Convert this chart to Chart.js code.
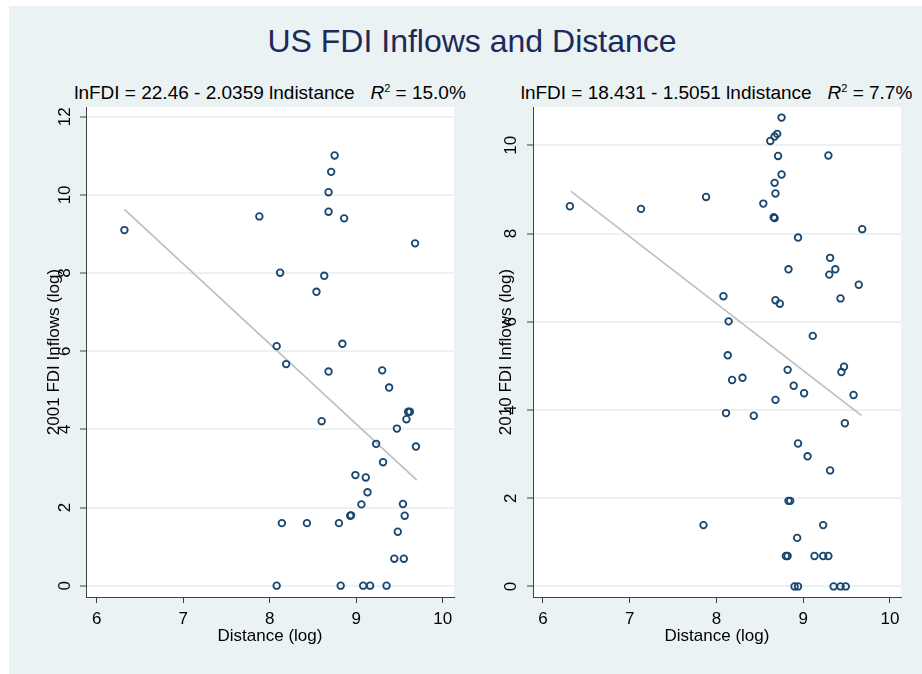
<!DOCTYPE html>
<html>
<head>
<meta charset="utf-8">
<script src="https://cdn.jsdelivr.net/npm/chart.js@4.4.1/dist/chart.umd.min.js"></script>
<style>
  body { margin: 0; background: #fff; width: 922px; height: 674px; overflow: hidden; position: relative; font-family: "Liberation Sans", Arial, sans-serif; }
  #bg { position: absolute; left: 9px; top: 6px; width: 913px; height: 668px; background: rgb(234,242,243); }
  #title { position: absolute; left: 0; top: 25px; width: 944px; text-align: center; font-size: 32px; line-height: 32px; color: #1c2a59; white-space: nowrap; }
  .sub { position: absolute; top: 83px; text-align: center; font-size: 19px; line-height: 19px; color: #000; white-space: nowrap; }
  .sub sup { font-size: 11px; vertical-align: 7px; line-height: 0; }
  canvas { position: absolute; }
</style>
</head>
<body>
<div id="bg"></div>
<div id="title">US FDI Inflows and Distance</div>
<div class="sub" style="left:0; width:540px;">lnFDI = 22.46 - 2.0359 lndistance &nbsp;&nbsp;<i>R</i><sup>2</sup> = 15.0%</div>
<div class="sub" style="left:472px; width:489px;">lnFDI = 18.431 - 1.5051 lndistance &nbsp;&nbsp;<i>R</i><sup>2</sup> = 7.7%</div>
<canvas id="left" width="461" height="574" style="left:9px; top:100px;"></canvas>
<canvas id="right" width="452" height="574" style="left:470px; top:100px;"></canvas>
<script>
// 2001 panel: distance (log) vs FDI inflows (log)
const x01 = [6.32, 7.88, 8.75, 8.71, 8.68, 8.68, 8.86, 9.68, 8.12, 8.63, 8.54, 8.08, 8.84, 8.19, 8.68, 9.30, 9.38,
  9.60, 9.62, 9.58, 8.60, 9.47, 9.23, 9.69, 9.31, 8.99, 9.11, 9.13, 9.06, 9.54, 8.93, 8.94, 9.56, 8.14, 8.43, 8.80,
  9.48, 9.44, 9.55, 8.08, 8.82, 9.08, 9.16, 9.35];
const y01 = [9.10, 9.45, 11.01, 10.59, 10.07, 9.57, 9.40, 8.76, 8.01, 7.93, 7.52, 6.13, 6.19, 5.67, 5.48, 5.51, 5.07,
  4.45, 4.45, 4.26, 4.21, 4.02, 3.63, 3.56, 3.16, 2.83, 2.77, 2.39, 2.08, 2.09, 1.79, 1.80, 1.79, 1.60, 1.60, 1.60,
  1.38, 0.69, 0.69, 0, 0, 0, 0, 0];
const fit01x = [6.32, 9.70];
const fit01y = [9.63, 2.70];

// 2010 panel
const x10 = [6.31, 7.13, 7.88, 8.75, 8.70, 8.67, 8.62, 8.71, 9.29, 8.75, 8.67, 8.68, 8.54, 8.66, 8.67, 9.68, 8.94,
  9.31, 8.83, 9.37, 9.30, 9.64, 8.08, 8.68, 8.73, 9.43, 8.14, 9.11, 8.13, 8.82, 9.47, 9.44, 8.18, 8.30, 8.89, 9.01,
  9.58, 8.68, 8.11, 8.43, 9.48, 8.94, 9.05, 9.31, 8.83, 8.85, 7.85, 9.23, 8.93, 8.80, 8.82, 9.13, 9.23, 9.29, 8.90,
  8.94, 9.35, 9.43, 9.49];
const y10 = [8.62, 8.56, 8.83, 10.63, 10.26, 10.20, 10.10, 9.76, 9.77, 9.34, 9.15, 8.91, 8.68, 8.37, 8.35, 8.10, 7.91,
  7.45, 7.19, 7.19, 7.07, 6.84, 6.58, 6.49, 6.41, 6.53, 6.01, 5.68, 5.24, 4.91, 4.98, 4.86, 4.68, 4.73, 4.55, 4.38,
  4.34, 4.23, 3.93, 3.87, 3.70, 3.24, 2.95, 2.63, 1.94, 1.94, 1.39, 1.39, 1.10, 0.69, 0.69, 0.69, 0.69, 0.69, 0,
  0, 0, 0, 0];
const fit10x = [6.32, 9.67];
const fit10y = [8.96, 3.88];

const xTicks = [6, 7, 8, 9, 10];
const yTicks01 = [0, 2, 4, 6, 8, 10, 12];
const yTicks10 = [0, 2, 4, 6, 8, 10];

Chart.defaults.font.family = '"Liberation Sans", Arial, sans-serif';
Chart.defaults.color = '#000';

const navy = 'rgb(26,71,111)';
const axisCol = '#404040';
const gridCol = 'rgb(234,242,243)';

// white plot region
const plotBg = {
  id: 'plotBg',
  beforeDraw(chart) {
    const a = chart.chartArea, ctx = chart.ctx;
    ctx.save();
    ctx.fillStyle = '#fff';
    ctx.fillRect(a.left, a.top, a.right - a.left, a.bottom - a.top);
    ctx.restore();
  }
};

// y tick labels are turned like the axis title
const rotatedYTicks = {
  id: 'rotatedYTicks',
  afterDraw(chart, args, opts) {
    const s = chart.scales.y, ctx = chart.ctx;
    ctx.save();
    ctx.font = '17px "Liberation Sans", Arial, sans-serif';
    ctx.fillStyle = '#000';
    ctx.textAlign = 'center';
    ctx.textBaseline = 'middle';
    s.ticks.forEach(t => {
      ctx.save();
      ctx.translate(opts.x, s.getPixelForValue(t.value));
      ctx.rotate(-Math.PI / 2);
      ctx.fillText(String(t.value), 0, 0);
      ctx.restore();
    });
    ctx.restore();
  }
};

function pts(xs, ys) {
  return xs.map((x, i) => ({ x: x, y: ys[i] }));
}

function panel(id, xs, ys, fx, fy, yTicks, ymin, ymax, xmin, xmax, ytitle, yw, titlePad, labelX, padRight) {
  const ctx = document.getElementById(id).getContext('2d');
  return new Chart(ctx, {
    type: 'scatter',
    data: {
      datasets: [{
        data: pts(xs, ys),
        pointRadius: 3.3,
        pointBorderWidth: 1.8,
        borderColor: navy,
        backgroundColor: 'rgba(0,0,0,0)'
      }, {
        type: 'line',
        data: pts(fx, fy),
        borderColor: 'rgb(190,190,190)',
        borderWidth: 1.6,
        pointRadius: 0,
        fill: false
      }]
    },
    options: {
      responsive: false,
      animation: false,
      layout: { padding: { left: 0, top: 7, right: padRight, bottom: 17 } },
      plugins: {
        legend: { display: false },
        tooltip: { enabled: false },
        rotatedYTicks: { x: labelX }
      },
      scales: {
        x: {
          type: 'linear',
          min: xmin,
          max: xmax,
          afterBuildTicks: s => { s.ticks = xTicks.map(v => ({ value: v })); },
          afterFit: s => { s.height = 60; },
          grid: { drawOnChartArea: false, drawTicks: true, tickLength: 6, tickColor: axisCol, tickWidth: 1 },
          border: { display: true, color: axisCol, width: 1 },
          ticks: { font: { size: 17 }, color: '#000', padding: 6, maxRotation: 0 },
          title: { display: true, text: 'Distance (log)', font: { size: 17 }, color: '#000', padding: { top: 0, bottom: 10 } }
        },
        y: {
          type: 'linear',
          min: ymin,
          max: ymax,
          afterBuildTicks: s => { s.ticks = yTicks.map(v => ({ value: v })); },
          afterFit: s => { s.width = yw; },
          grid: { color: gridCol, lineWidth: 2, drawTicks: true, tickLength: 6, tickColor: axisCol, tickWidth: 1 },
          border: { display: true, color: axisCol, width: 1 },
          ticks: { display: false },
          title: { display: true, text: ytitle, font: { size: 17 }, color: '#000', padding: { top: titlePad, bottom: 0 } }
        }
      }
    },
    plugins: [plotBg, rotatedYTicks]
  });
}

panel('left', x01, y01, fit01x, fit01y, yTicks01, -0.29, 12.25, 5.876, 10.13, '2001 FDI Inflows (log)', 77, 35, 56, 16);
panel('right', x10, y10, fit10x, fit10y, yTicks10, -0.24, 10.87, 5.885, 10.127, '2010 FDI Inflows (log)', 63, 26, 41, 21);
</script>
</body>
</html>
